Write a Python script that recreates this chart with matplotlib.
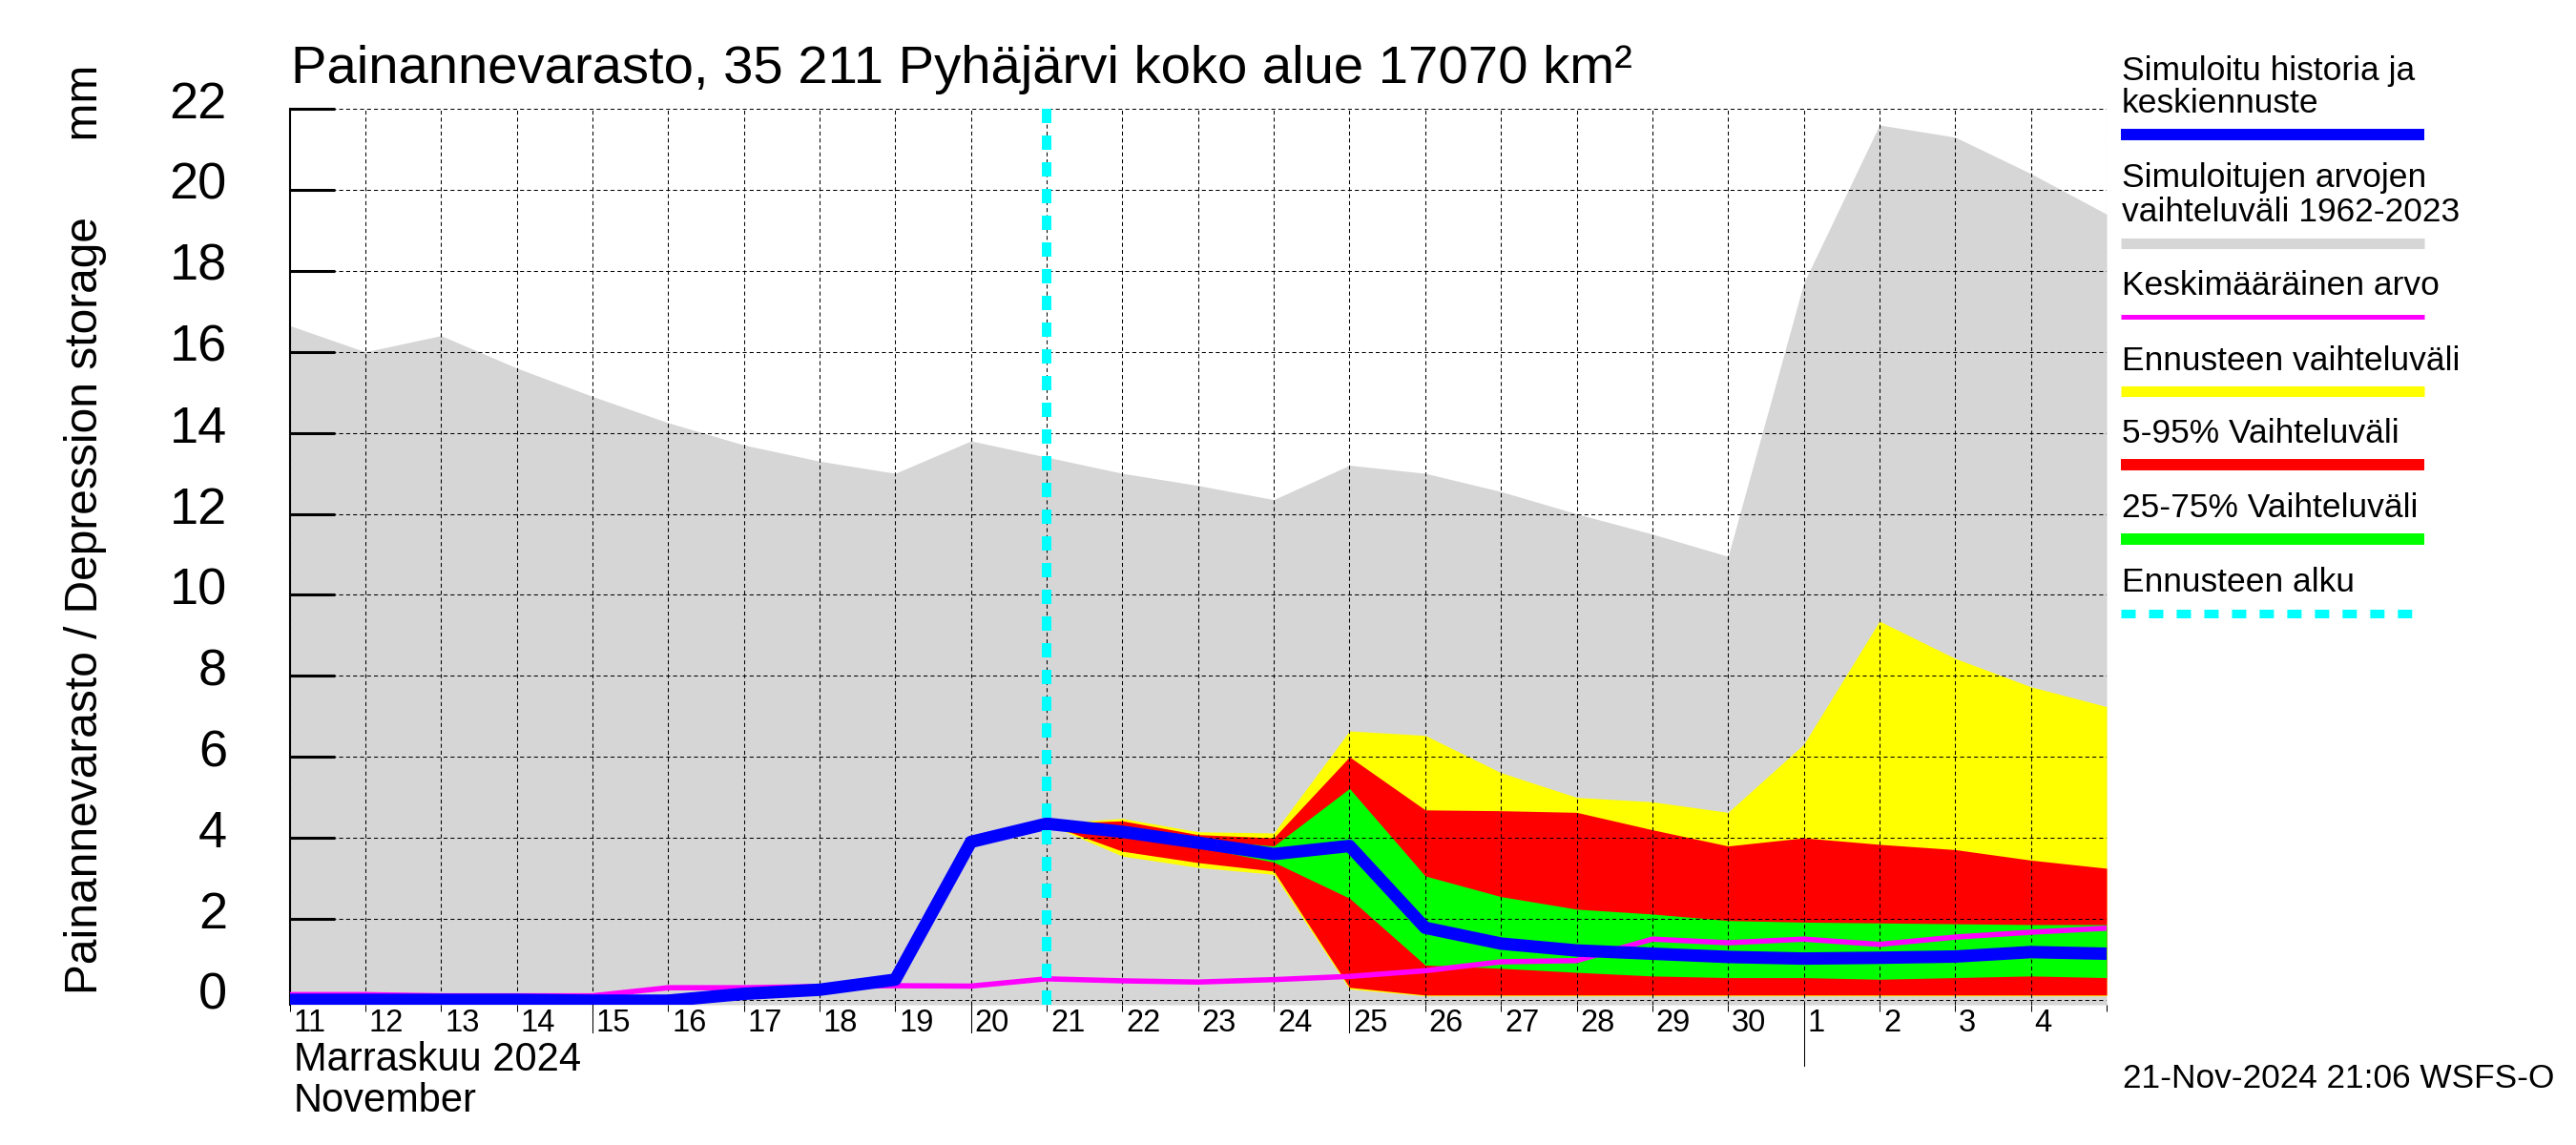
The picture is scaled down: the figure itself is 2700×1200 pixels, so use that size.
import matplotlib
matplotlib.use('Agg')
import matplotlib.pyplot as plt
import matplotlib.transforms as mtransforms
from matplotlib.lines import Line2D
import numpy as np

plt.rcParams['font.family'] = ['Liberation Sans', 'DejaVu Sans']

# --- data (daily values, Nov 11 .. Dec 5) ---
day_labels = ['11', '12', '13', '14', '15', '16', '17', '18', '19', '20',
              '21', '22', '23', '24', '25', '26', '27', '28', '29', '30',
              '1', '2', '3', '4']

# simulated range 1962-2023 (upper edge)
sim_max = [16.65, 16.0, 16.4, 15.6, 14.9, 14.25, 13.7, 13.3, 13.0, 13.8,
           13.4, 13.0, 12.7, 12.35, 13.2, 13.0, 12.55, 12.0, 11.5, 10.95,
           17.7, 21.6, 21.3, 20.4, 19.4]

# mean value
mean_val = [0.13, 0.13, 0.1, 0.1, 0.1, 0.3, 0.3, 0.33, 0.35, 0.34,
            0.52, 0.47, 0.44, 0.5, 0.58, 0.72, 0.94, 0.97, 1.5, 1.41,
            1.5, 1.37, 1.55, 1.67, 1.77]

# simulated history (Nov 11 .. Nov 21)
history = [0.0, 0.0, 0.0, 0.0, -0.02, -0.02, 0.15, 0.25, 0.5, 3.9, 4.35]

# forecast (Nov 21 .. Dec 5)
fc_median = [4.35, 4.15, 3.88, 3.6, 3.8, 1.78, 1.39, 1.22, 1.14, 1.06,
             1.02, 1.04, 1.07, 1.18, 1.14]
fc_max = [4.35, 4.48, 4.15, 4.12, 6.64, 6.53, 5.61, 5.0, 4.89, 4.63,
          6.31, 9.35, 8.43, 7.73, 7.24]
fc_p95 = [4.35, 4.42, 4.08, 4.0, 6.0, 4.69, 4.67, 4.63, 4.2, 3.8,
          4.0, 3.84, 3.71, 3.45, 3.25]
fc_p75 = [4.35, 4.22, 3.96, 3.8, 5.22, 3.06, 2.55, 2.24, 2.12, 1.96,
          1.92, 1.9, 1.88, 1.86, 1.86]
fc_p25 = [4.35, 4.05, 3.78, 3.4, 2.51, 0.86, 0.78, 0.68, 0.59, 0.55,
          0.55, 0.51, 0.55, 0.59, 0.55]
fc_p05 = [4.35, 3.67, 3.39, 3.18, 0.31, 0.12, 0.12, 0.12, 0.12, 0.12,
          0.12, 0.12, 0.12, 0.12, 0.12]
fc_min = [4.35, 3.55, 3.27, 3.1, 0.27, 0.1, 0.1, 0.1, 0.1, 0.1,
          0.1, 0.1, 0.1, 0.1, 0.1]

y_ticks = [0, 2, 4, 6, 8, 10, 12, 14, 16, 18, 20, 22]

title = 'Painannevarasto, 35 211 Pyhäjärvi koko alue 17070 km²'
ylabel = 'Painannevarasto / Depression storage      mm'
timestamp = '21-Nov-2024 21:06 WSFS-O'

W, H = 2700, 1200


def fx(px):
    return px / W


def fy(py):
    return 1 - py / H


fig = plt.figure(figsize=(27, 12), dpi=100)
ax = fig.add_axes([fx(303.5), fy(1053), fx(2208) - fx(303.5), fy(114) - fy(1053)])

x_all = np.arange(len(sim_max))
n_hist = len(history)
x_fc = x_all[n_hist - 1:]
ybot = -0.12

ax.set_xlim(0, len(day_labels))
ax.set_ylim(ybot, 22)

# fills
ax.fill_between(x_all, ybot, sim_max, color='#d6d6d6', lw=0, zorder=1)
ax.fill_between(x_fc, fc_min, fc_max, color='#ffff00', lw=0, zorder=1.1)
ax.fill_between(x_fc, fc_p05, fc_p95, color='#ff0000', lw=0, zorder=1.2)
ax.fill_between(x_fc, fc_p25, fc_p75, color='#00ff00', lw=0, zorder=1.3)

# lines
ax.plot(x_all, mean_val, color='#ff00ff', lw=4, zorder=3)
blue = list(history) + list(fc_median[1:])
ax.plot(x_all, blue, color='#0000ff', lw=9.4, zorder=4)
ax.axvline(x_all[n_hist - 1], color='#00ffff', lw=7.2,
           linestyle=(0, (1.5, 1.3)), zorder=5)

# grid
ax.set_xticks(np.arange(len(day_labels) + 1))
ax.set_yticks(y_ticks)
ax.set_yticklabels([])
ax.set_xticklabels([])
ax.grid(True, color='black', linestyle=(0, (4, 3)), lw=0.75)
ax.set_axisbelow('line')

for s in ['top', 'right', 'bottom']:
    ax.spines[s].set_visible(False)
ax.spines['left'].set_linewidth(1.5)
ax.tick_params(axis='y', direction='in', length=34, width=2.2)
ax.tick_params(axis='x', direction='out', length=5, width=0.75)

# y tick labels
ytr = mtransforms.blended_transform_factory(fig.transFigure, ax.transData)
off = mtransforms.ScaledTranslation(0, -10 / 100, fig.dpi_scale_trans)
for v in y_ticks:
    ax.text(fx(238), v, str(v), transform=ytr + off, ha='right', va='baseline',
            fontsize=39, clip_on=False)

# x tick labels and longer ticks
xtr = mtransforms.blended_transform_factory(ax.transData, fig.transFigure)
for i, lab in enumerate(day_labels):
    ax.text(i + 0.05, fy(1081), lab, transform=xtr, ha='left', va='baseline',
            fontsize=23.5, clip_on=False)
    if lab in ('15', '20', '25'):
        ax.add_line(Line2D([i, i], [fy(1053), fy(1082)], transform=xtr,
                           color='black', lw=0.75, clip_on=False))
    if lab == '1':
        ax.add_line(Line2D([i, i], [fy(1053), fy(1117)], transform=xtr,
                           color='black', lw=0.75, clip_on=False))

fig.text(fx(308), fy(1122), 'Marraskuu 2024', fontsize=30, va='baseline')
fig.text(fx(308), fy(1165), 'November', fontsize=30, va='baseline')

fig.text(fx(305), fy(87), title, fontsize=40.5, va='baseline')
fig.text(fx(90), fy(555), ylabel, rotation=90, fontsize=34.5,
         ha='center', va='center')
fig.text(fx(2225), fy(1140), timestamp, fontsize=25.4, va='baseline')

# legend
leg_items = [
    (['Simuloitu historia ja', 'keskiennuste'], [84, 118], 141, '#0000ff', 8.6, '-'),
    (['Simuloitujen arvojen', 'vaihteluväli 1962-2023'], [196, 232], 254.5, '#d6d6d6', 8.0, '-'),
    (['Keskimääräinen arvo'], [309], 332, '#ff00ff', 3.6, '-'),
    (['Ennusteen vaihteluväli'], [387.5], 409.5, '#ffff00', 8.0, '-'),
    (['5-95% Vaihteluväli'], [464], 487, '#ff0000', 8.6, '-'),
    (['25-75% Vaihteluväli'], [542], 565, '#00ff00', 8.6, '-'),
    (['Ennusteen alku'], [620.5], 642.5, '#00ffff', 6.5, (0, (1.66, 1.55))),
]
for lines, bases, bar_y, col, lw, ls in leg_items:
    for txt, b in zip(lines, bases):
        fig.text(fx(2224), fy(b), txt, fontsize=25.5, va='baseline')
    fig.add_artist(Line2D([fx(2223), fx(2541)], [fy(bar_y), fy(bar_y)],
                          color=col, lw=lw, linestyle=ls,
                          solid_capstyle='butt', dash_capstyle='butt'))

fig.savefig('out.png', dpi=100)
